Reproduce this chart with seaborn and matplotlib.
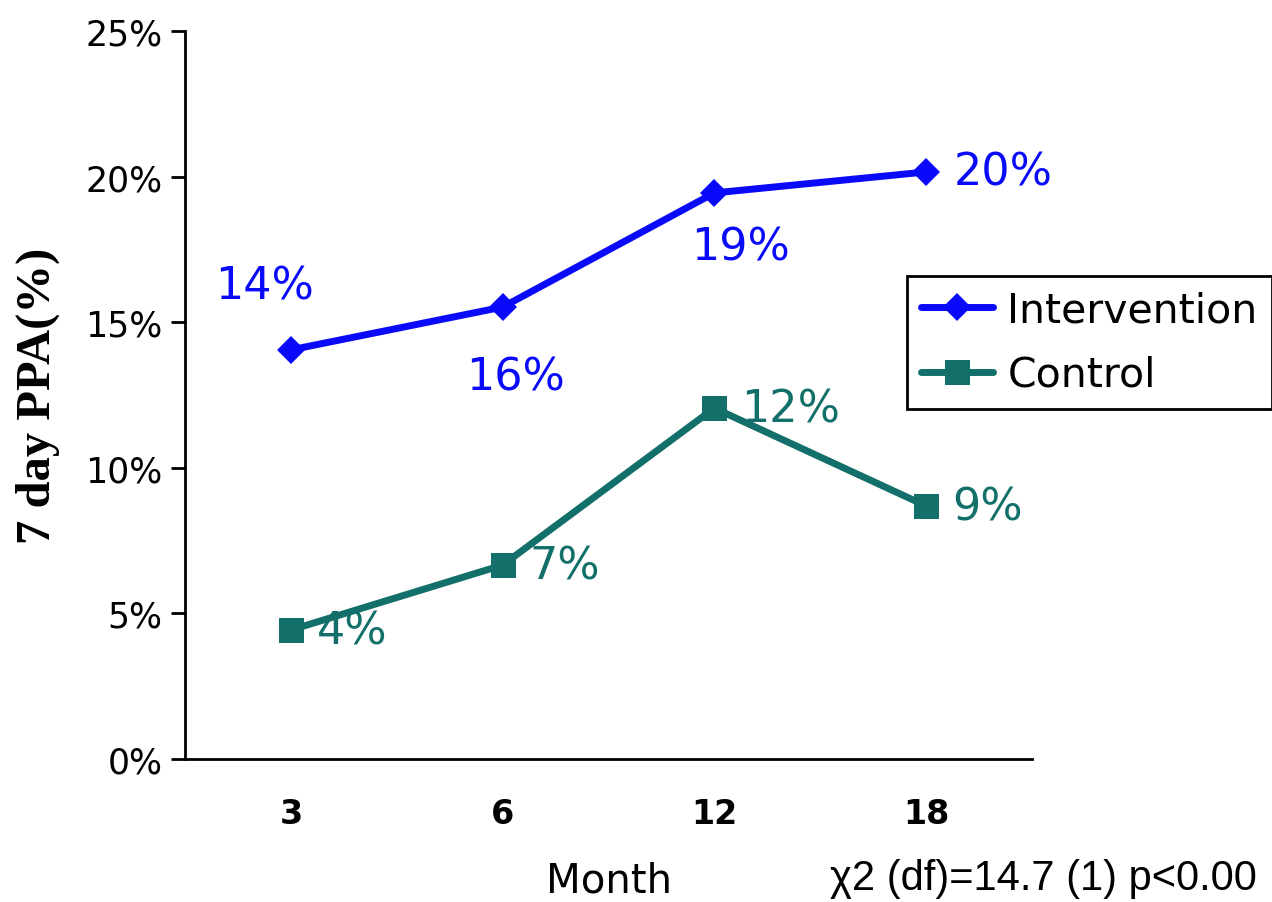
import matplotlib
matplotlib.use("Agg")
import matplotlib.pyplot as plt
import seaborn as sns
import pandas as pd
from matplotlib.ticker import PercentFormatter, FixedLocator, NullFormatter
from matplotlib.lines import Line2D

# Data: 7-day point prevalence abstinence (%) by follow-up month
months = ["3", "6", "12", "18"]
intervention = [14.05, 15.52, 19.44, 20.16]
control = [4.43, 6.66, 12.05, 8.69]
series_names = ["Intervention", "Control"]

BLUE = "#0A0AFA"
TEAL = "#126F69"

df = pd.DataFrame({
    "Month": months * 2,
    "PPA": intervention + control,
    "Group": [series_names[0]] * len(months) + [series_names[1]] * len(months),
})

sns.set_theme(style="white")
plt.rcParams["font.family"] = ["DejaVu Sans"]
plt.rcParams.update({"text.color": "black", "axes.labelcolor": "black",
                     "xtick.color": "black", "ytick.color": "black"})

fig = plt.figure(figsize=(12.72, 9.03), dpi=100)
ax = fig.add_axes([185 / 1272, 1 - 760 / 903, (1032 - 185) / 1272, (760 - 32) / 903])

LW = 5
sns.lineplot(
    data=df, x="Month", y="PPA", hue="Group", style="Group",
    palette={series_names[0]: BLUE, series_names[1]: TEAL},
    markers={series_names[0]: "D", series_names[1]: "s"},
    dashes=False, sort=False, linewidth=LW, legend=False, ax=ax,
)
for line, ms in zip(ax.lines, [14, 18]):
    line.set_markersize(ms)
    line.set_markeredgewidth(0)

# Value labels (rounded from the plotted values)
LABEL_FS = 32
label_offsets_int = [(-18.7, 46), (9.4, -50.4), (18.7, -38.9), (20, 0)]
label_align_int = ["center", "center", "center", "left"]
for i, (v, off, ha) in enumerate(zip(intervention, label_offsets_int, label_align_int)):
    ax.annotate(f"{v:.0f}%", (i, v), xytext=off, textcoords="offset points",
                ha=ha, va="center", fontsize=LABEL_FS, color=BLUE)
for i, v in enumerate(control):
    ax.annotate(f"{v:.0f}%", (i, v), xytext=(19, -1), textcoords="offset points",
                ha="left", va="center", fontsize=LABEL_FS, color=TEAL)

# Axes formatting
ax.set_ylim(0, 25)
ax.set_yticks([0, 5, 10, 15, 20, 25])
ax.yaxis.set_major_formatter(PercentFormatter(xmax=100, decimals=0))
ax.set_xlim(-0.5, len(months) - 0.5)
ax.xaxis.set_major_locator(FixedLocator([k - 0.5 for k in range(len(months) + 1)]))
ax.xaxis.set_major_formatter(NullFormatter())
ax.set_xticks(list(range(len(months))), minor=True)
ax.set_xticklabels(months, minor=True, fontsize=24, fontweight="bold")
ax.tick_params(axis="x", which="major", direction="out", length=10, width=2, color="black")
ax.tick_params(axis="x", which="minor", length=0, pad=27)
ax.tick_params(axis="y", direction="out", length=10, width=2, color="black",
               labelsize=25, pad=6, left=True)

for side in ["top", "right"]:
    ax.spines[side].set_visible(False)
for side in ["left", "bottom"]:
    ax.spines[side].set_color("black")
    ax.spines[side].set_linewidth(2)
ax.grid(False)

ax.set_xlabel("Month", fontsize=29)
ax.xaxis.set_label_coords(0.5, -0.14)
ax.set_ylabel("7 day PPA(%)", fontsize=35, fontweight="bold",
              family=["Liberation Serif", "DejaVu Serif"])
ax.yaxis.set_label_coords(-0.148, 0.5)

handles = [
    Line2D([], [], color=BLUE, marker="D", markersize=14, lw=LW, markeredgewidth=0),
    Line2D([], [], color=TEAL, marker="s", markersize=18, lw=LW, markeredgewidth=0),
]
leg = fig.legend(handles, series_names, loc="upper left",
                 bbox_to_anchor=(907 / 1272, 1 - 277 / 903),
                 fontsize=29.5, frameon=True, fancybox=False, framealpha=1,
                 edgecolor="black", handlelength=1.75, handletextpad=0.35,
                 borderpad=0.35, labelspacing=0.6, borderaxespad=0)
leg.get_frame().set_linewidth(2)

fig.text(830 / 1272, 1 - 890 / 903, "χ2 (df)=14.7 (1) p<0.00", fontsize=30,
         family=["Liberation Sans", "DejaVu Sans"], ha="left", va="baseline")

fig.savefig("out.png", dpi=100)
